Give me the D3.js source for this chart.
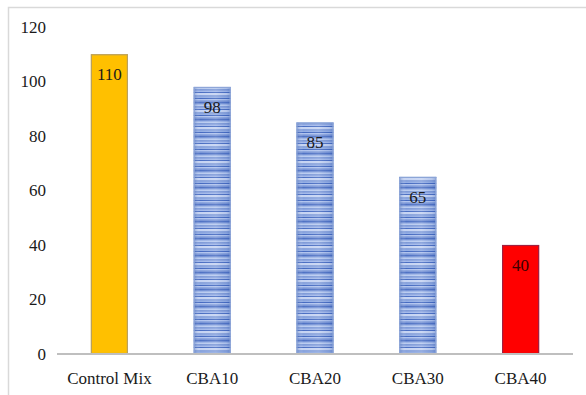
<!DOCTYPE html>
<html>
<head>
<meta charset="utf-8">
<script src="https://cdn.jsdelivr.net/npm/d3@7/dist/d3.min.js"></script>
<style>
  html, body { margin: 0; padding: 0; background: #fff; }
  svg { display: block; }
</style>
</head>
<body>
<svg id="chart" width="586" height="395"></svg>
<script>
// Chart data
const categories = ["Control Mix", "CBA10", "CBA20", "CBA30", "CBA40"];
const values = [110, 98, 85, 65, 40];
const yTicks = [0, 20, 40, 60, 80, 100, 120];

const FONT = '"Liberation Serif", monospace';
const W = 586, H = 395;
const svg = d3.select("#chart");

// Outer frame of the chart area
svg.append("rect")
  .attr("x", 8.5).attr("y", 7.5)
  .attr("width", W + 10).attr("height", H + 10)
  .attr("fill", "#fff").attr("stroke", "#d9d9d9").attr("stroke-width", 1.5);

const x = d3.scaleBand().domain(categories).range([58, 572]).paddingInner(0.64).paddingOuter(0.32);
const y = d3.scaleLinear().domain([0, 120]).range([354, 27]);

// Fills: striped blue pattern plus a horizontal shading gradient
const defs = svg.append("defs");
const pat = defs.append("pattern")
  .attr("id", "stripes").attr("patternUnits", "userSpaceOnUse")
  .attr("width", 40).attr("height", 17);
pat.append("rect").attr("width", 40).attr("height", 17).attr("fill", "#8fa9e0");
const stripeRows = [
  [0, 1.5, "#4f72c4"], [1.5, 1, "#7a98d8"], [2.5, 2, "#b9cbf0"],
  [4.5, 1, "#5a7cc8"], [5.5, 1.5, "#a3b9ea"], [7, 1, "#4a6ec2"],
  [8, 2.5, "#c6d4f3"], [10.5, 1, "#6a8ad0"], [11.5, 1.5, "#94aee4"],
  [13, 1, "#456ac0"], [14, 1.5, "#b0c3ee"], [15.5, 1.5, "#7894d6"]
];
stripeRows.forEach(([yy, h, c]) => pat.append("rect").attr("x", 0).attr("y", yy).attr("width", 40).attr("height", h).attr("fill", c));

const shade = defs.append("linearGradient").attr("id", "shade").attr("x1", "0").attr("x2", "1").attr("y1", "0").attr("y2", "0");
shade.append("stop").attr("offset", "0").attr("stop-color", "#2f55a8").attr("stop-opacity", 0.4);
shade.append("stop").attr("offset", "0.18").attr("stop-color", "#ffffff").attr("stop-opacity", 0.0);
shade.append("stop").attr("offset", "0.6").attr("stop-color", "#ffffff").attr("stop-opacity", 0.12);
shade.append("stop").attr("offset", "0.88").attr("stop-color", "#2f55a8").attr("stop-opacity", 0.1);
shade.append("stop").attr("offset", "1").attr("stop-color", "#2f55a8").attr("stop-opacity", 0.35);

const fills = ["#ffc000", "url(#stripes)", "url(#stripes)", "url(#stripes)", "#ff0000"];
const strokes = ["#b8a060", "#8ea6d8", "#8ea6d8", "#8ea6d8", "#a02040"];

const data = categories.map((c, i) => ({ c, v: values[i], i }));

const bars = svg.append("g");
bars.selectAll("rect.bar").data(data).join("rect")
  .attr("class", "bar")
  .attr("x", d => x(d.c)).attr("y", d => y(d.v))
  .attr("width", x.bandwidth()).attr("height", d => y(0) - y(d.v))
  .attr("fill", d => fills[d.i]);
bars.selectAll("rect.shade").data(data.filter(d => d.i > 0 && d.i < 4)).join("rect")
  .attr("class", "shade")
  .attr("x", d => x(d.c)).attr("y", d => y(d.v))
  .attr("width", x.bandwidth()).attr("height", d => y(0) - y(d.v))
  .attr("fill", "url(#shade)");
bars.selectAll("rect.edge").data(data).join("rect")
  .attr("class", "edge")
  .attr("x", d => x(d.c) + 0.5).attr("y", d => y(d.v) + 0.5)
  .attr("width", x.bandwidth() - 1).attr("height", d => y(0) - y(d.v) - 1)
  .attr("fill", "none").attr("stroke", d => strokes[d.i]).attr("stroke-width", 1.2);

// Value labels inside the top of each bar
svg.append("g").selectAll("text").data(data).join("text")
  .attr("x", d => x(d.c) + x.bandwidth() / 2)
  .attr("y", d => y(d.v) + 26)
  .attr("text-anchor", "middle")
  .style("font-family", FONT)
  .style("font-size", "17px")
  .style("fill", d => d.i === 4 ? "#3a0000" : "#1a1a1a")
  .text(d => d.v);

// Baseline (category axis)
const xAxis = svg.append("g").attr("transform", `translate(0,${y(0)})`)
  .call(d3.axisBottom(x).tickSize(0).tickPadding(18));
xAxis.select(".domain").attr("stroke", "#bfbfbf").attr("stroke-width", 2)
  .attr("d", "M57,0H573");
xAxis.selectAll("text")
  .style("font-family", FONT).style("font-size", "17px").style("fill", "#1a1a1a");

// Value axis labels only
const yAxis = svg.append("g").attr("transform", "translate(46,0)")
  .call(d3.axisLeft(y).tickValues(yTicks).tickSize(0).tickPadding(0));
yAxis.select(".domain").remove();
yAxis.selectAll("text")
  .style("font-family", FONT).style("font-size", "17px").style("fill", "#1a1a1a");
</script>
</body>
</html>
